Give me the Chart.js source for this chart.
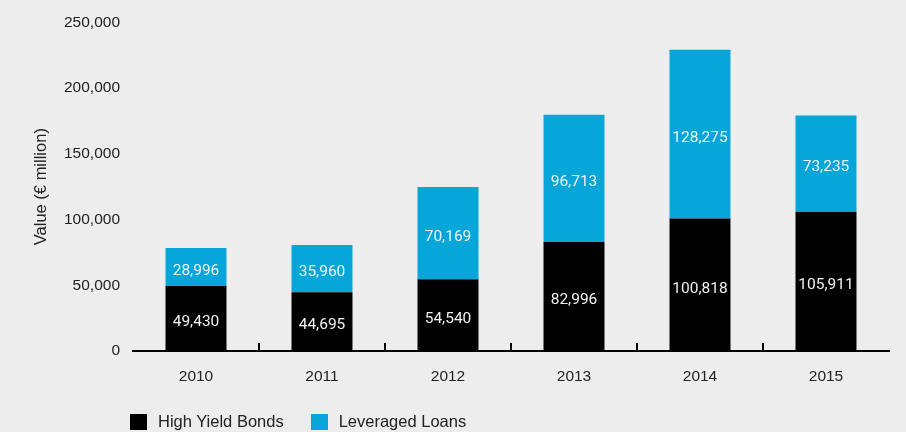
<!DOCTYPE html>
<html>
<head>
<meta charset="utf-8">
<script src="https://cdn.jsdelivr.net/npm/chart.js@4/dist/chart.umd.min.js"></script>
<style>
  html, body { margin: 0; padding: 0; background: #ededed; }
  #wrap { position: relative; width: 906px; height: 432px; }
  #legend {
    position: absolute; left: 130px; top: 412px;
    font: 16.5px "Liberation Sans", Arial, sans-serif; color: #222;
    display: flex; align-items: center;
  }
  #legend .item { display: flex; align-items: center; margin-right: 27px; }
  #legend .box { width: 17px; height: 16px; margin-right: 11px; }
</style>
</head>
<body>
<div id="wrap">
  <canvas id="chart" width="906" height="432"></canvas>
  <div id="legend"></div>
</div>
<script>
const years = ["2010", "2011", "2012", "2013", "2014", "2015"];
const highYieldBonds = [49430, 44695, 54540, 82996, 100818, 105911];
const leveragedLoans = [28996, 35960, 70169, 96713, 128275, 73235];
const seriesNames = ["High Yield Bonds", "Leveraged Loans"];
const seriesColors = ["#000000", "#06a6d9"];

const fmt = new Intl.NumberFormat("en-US");

// white value labels in the middle of each stacked segment
const segmentLabels = {
  id: "segmentLabels",
  afterDatasetsDraw(chart) {
    const ctx = chart.ctx;
    ctx.save();
    ctx.font = "15.5px Roboto, sans-serif";
    ctx.fillStyle = "#f2f2f2";
    ctx.textAlign = "center";
    ctx.textBaseline = "middle";
    chart.data.datasets.forEach((ds, i) => {
      chart.getDatasetMeta(i).data.forEach((bar, j) => {
        const y = (bar.y + bar.base) / 2 + 4;
        ctx.fillText(fmt.format(ds.data[j]), bar.x, y);
      });
    });
    ctx.restore();
  }
};

// small upward ticks between the year groups
const groupTicks = {
  id: "groupTicks",
  afterDatasetsDraw(chart) {
    const x = chart.scales.x;
    const bottom = chart.chartArea.bottom;
    const ctx = chart.ctx;
    ctx.save();
    ctx.strokeStyle = "#000";
    ctx.lineWidth = 2;
    for (let i = 1; i < years.length; i++) {
      const px = Math.round((x.getPixelForTick(i - 1) + x.getPixelForTick(i)) / 2);
      ctx.beginPath();
      ctx.moveTo(px, bottom);
      ctx.lineTo(px, bottom - 8);
      ctx.stroke();
    }
    ctx.restore();
  }
};

const chart = new Chart(document.getElementById("chart"), {
  type: "bar",
  data: {
    labels: years,
    datasets: [
      { label: seriesNames[0], data: highYieldBonds, backgroundColor: seriesColors[0] },
      { label: seriesNames[1], data: leveragedLoans, backgroundColor: seriesColors[1] }
    ]
  },
  options: {
    responsive: false,
    animation: false,
    layout: { padding: { left: 0, right: 17, top: 20, bottom: 0 } },
    datasets: { bar: { categoryPercentage: 1, barPercentage: 0.484 } },
    plugins: { legend: { display: false }, tooltip: { enabled: false } },
    scales: {
      x: {
        stacked: true,
        grid: { display: false, drawTicks: false },
        border: { display: true, color: "#000", width: 2 },
        ticks: { color: "#222", padding: 16, font: { family: "Liberation Sans", size: 15.5 } },
        afterFit(scale) { scale.height = 81; }
      },
      y: {
        stacked: true,
        min: 0,
        max: 250000,
        grid: { display: false, drawTicks: false },
        border: { display: false },
        ticks: {
          stepSize: 50000,
          color: "#222",
          padding: 13,
          font: { family: "Liberation Sans", size: 15.5 },
          callback: (v) => fmt.format(v)
        },
        title: {
          display: true,
          text: "Value (€ million)",
          color: "#222",
          font: { family: "Liberation Sans", size: 16.5 },
          padding: { top: 32, bottom: 0 }
        },
        afterFit(scale) { scale.width = 133; }
      }
    }
  },
  plugins: [segmentLabels, groupTicks]
});

const legend = document.getElementById("legend");
seriesNames.forEach((name, i) => {
  const item = document.createElement("div");
  item.className = "item";
  const box = document.createElement("span");
  box.className = "box";
  box.style.background = seriesColors[i];
  const txt = document.createElement("span");
  txt.textContent = name;
  item.appendChild(box);
  item.appendChild(txt);
  legend.appendChild(item);
});
</script>
</body>
</html>
